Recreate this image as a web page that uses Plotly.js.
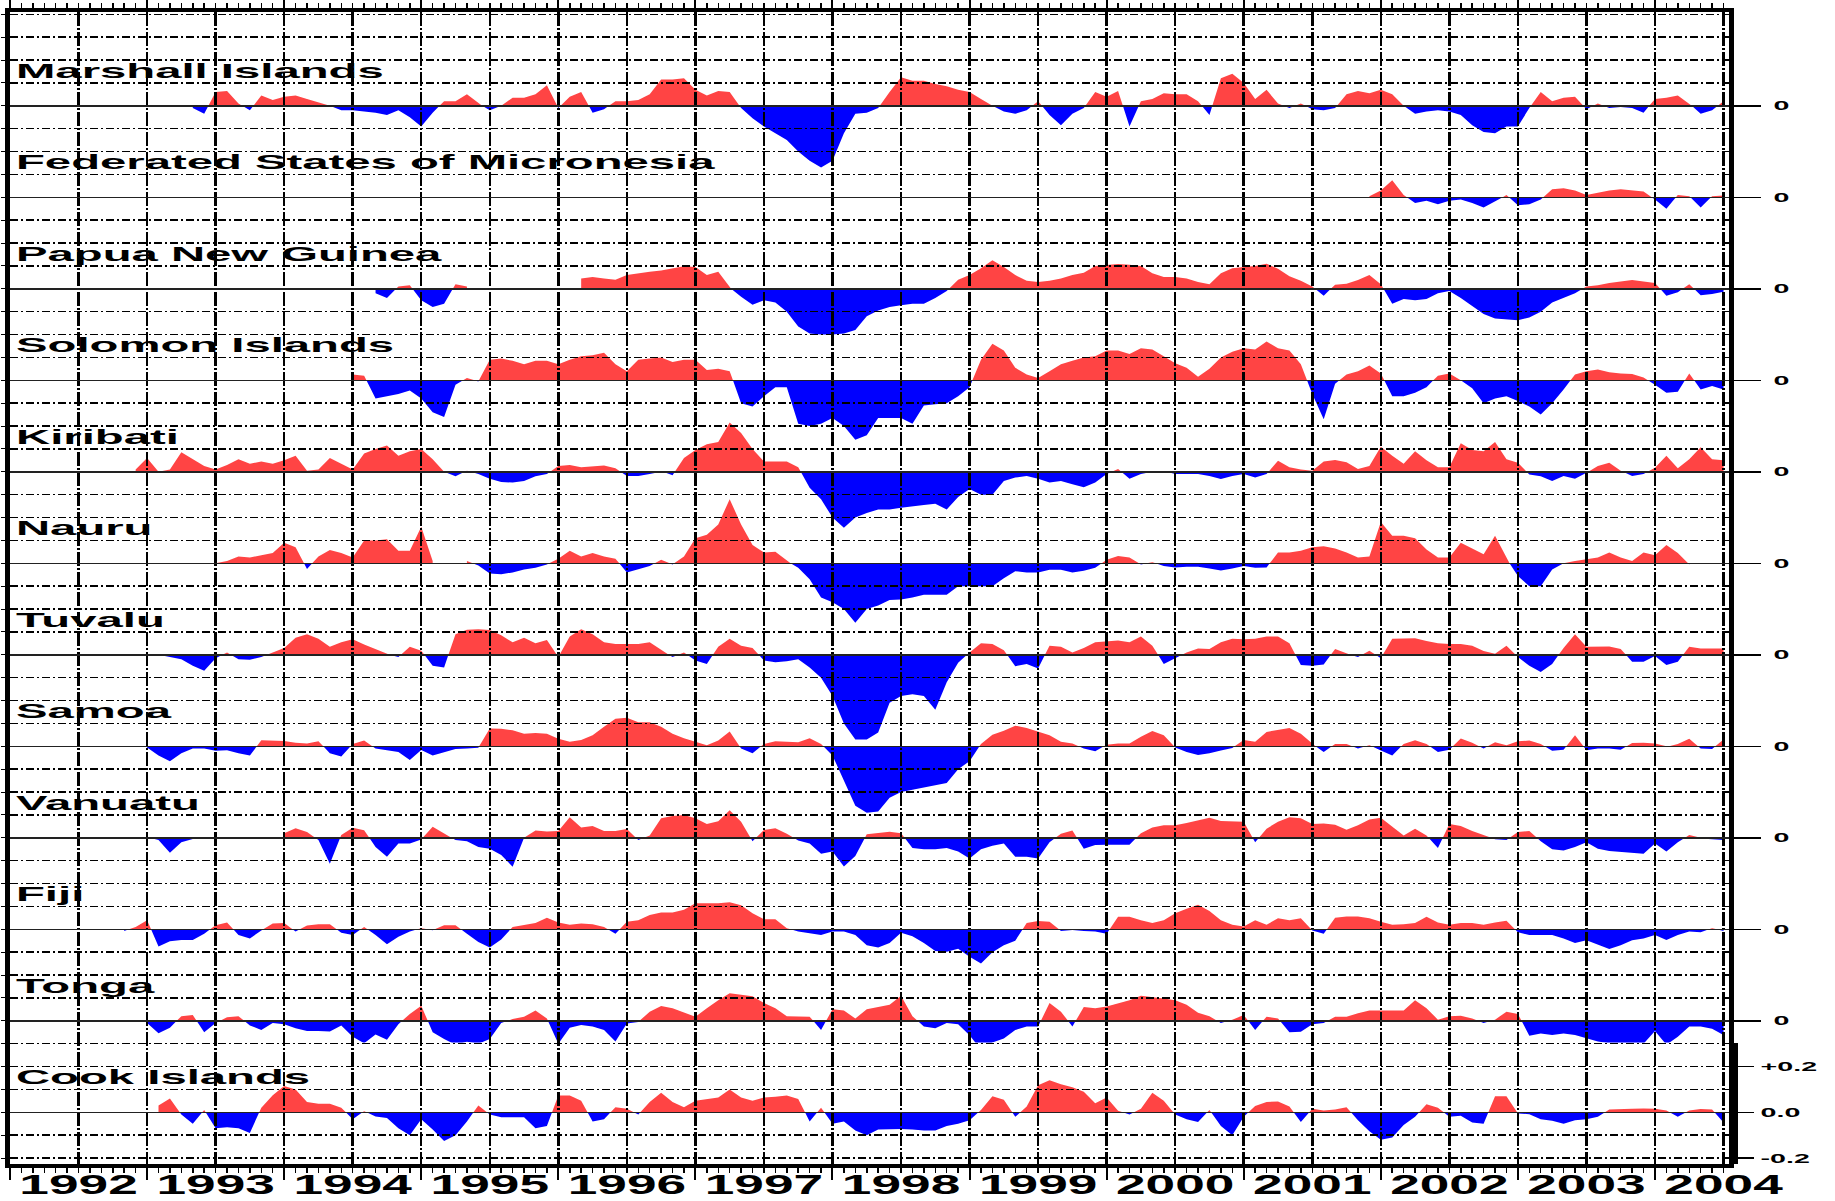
<!DOCTYPE html>
<html><head><meta charset="utf-8">
<script src="https://cdn.plot.ly/plotly-3.0.1.min.js"></script>
<style>html,body{margin:0;padding:0;background:#fff;}#chart{width:1835px;height:1201px;}</style>
</head><body><div id="chart"></div>
<script>
// ---------------- DATA (sea-level anomaly, metres, monthly) ----------------
const islands = ['Marshall Islands','Federated States of Micronesia','Papua New Guinea','Solomon Islands',
  'Kiribati','Nauru','Tuvalu','Samoa','Vanuatu','Fiji','Tonga','Cook Islands'];
const startMonths = ['1993-05','2001-12','1994-09','1994-07','1992-12','1993-07','1993-02','1993-01','1993-01','1992-11','1993-01','1993-02'];
const yearLabels = ['1992','1993','1994','1995','1996','1997','1998','1999','2000','2001','2002','2003','2004'];

const marshall = [-0.01,-0.035,0.06,0.065,0.01,-0.02,0.045,0.025,
 0.04,0.045,0.03,0.015,0.0,-0.02,-0.02,-0.025,-0.03,-0.04,-0.02,-0.05,
 -0.09,-0.03,0.02,0.02,0.05,0.01,-0.02,0.0,0.035,0.035,0.05,0.09,
 -0.01,0.04,0.06,-0.03,-0.015,0.02,0.02,0.025,0.05,0.115,0.115,0.12,
 0.07,0.045,0.065,0.06,-0.01,-0.055,-0.09,-0.12,-0.15,-0.2,-0.24,-0.27,
 -0.24,-0.12,-0.035,-0.03,-0.01,0.06,0.125,0.11,0.11,0.095,0.085,0.07,
 0.06,0.03,0.0,-0.025,-0.035,-0.02,0.02,-0.04,-0.085,-0.035,-0.01,0.06,
 0.04,0.065,-0.09,0.02,0.03,0.055,0.05,0.05,0.02,-0.04,0.12,0.14,
 0.1,0.03,0.07,0.01,-0.01,0.01,-0.015,-0.02,-0.01,0.05,0.065,0.055,
 0.07,0.05,0.0,-0.035,-0.025,-0.02,-0.025,-0.04,-0.085,-0.115,-0.12,-0.09,
 -0.09,-0.01,0.06,0.02,0.035,0.04,-0.015,0.01,-0.01,-0.005,-0.01,-0.03,
 0.03,0.035,0.045,0.01,-0.035,-0.02,0.02];

const micronesia = [0.005,
 0.03,0.075,0.01,-0.025,-0.015,-0.03,-0.015,-0.01,-0.025,-0.045,-0.02,0.01,
 -0.035,-0.03,-0.01,0.035,0.04,0.03,0.01,0.02,0.03,0.035,0.03,0.025,
 -0.01,-0.05,0.01,0.005,-0.045,0.005,0.008];

const papua = [-0.02,-0.04,0.01,0.015,
 -0.05,-0.08,-0.065,0.02,0.01,null,null,null,null,null,null,null,
 null,null,0.045,0.052,0.045,0.04,0.06,0.068,0.075,0.08,0.09,0.098,
 0.095,0.06,0.075,0.005,-0.035,-0.07,-0.05,-0.06,-0.1,-0.165,-0.195,-0.2,
 -0.2,-0.195,-0.18,-0.12,-0.095,-0.08,-0.072,-0.065,-0.065,-0.04,-0.01,0.04,
 0.06,0.09,0.125,0.095,0.06,0.035,0.03,0.035,0.045,0.06,0.07,0.1,
 0.105,0.108,0.105,0.1,0.068,0.052,0.052,0.045,0.03,0.02,0.068,0.09,
 0.095,0.1,0.11,0.088,0.055,0.035,0.01,-0.03,0.018,0.022,0.038,0.06,
 0.02,-0.065,-0.045,-0.05,-0.045,-0.02,-0.01,-0.04,-0.075,-0.11,-0.13,-0.133,
 -0.137,-0.125,-0.1,-0.06,-0.04,-0.02,0.01,0.015,0.025,0.03,0.038,0.032,
 0.025,-0.03,-0.015,0.02,-0.028,-0.023,-0.013];

const solomon = [0.025,0.02,-0.08,-0.07,-0.06,-0.045,
 -0.08,-0.14,-0.16,-0.02,0.01,-0.005,0.09,0.095,0.085,0.07,0.085,0.085,
 0.07,0.09,0.105,0.11,0.12,0.07,0.04,0.09,0.095,0.1,0.08,0.09,
 0.09,0.045,0.05,0.04,-0.1,-0.115,-0.07,-0.03,-0.03,-0.19,-0.2,-0.19,
 -0.165,-0.2,-0.26,-0.24,-0.165,-0.165,-0.165,-0.19,-0.11,-0.105,-0.1,-0.07,
 -0.03,0.09,0.16,0.13,0.055,0.025,0.01,0.04,0.07,0.085,0.1,0.105,
 0.13,0.13,0.115,0.14,0.135,0.105,0.075,0.055,0.015,0.05,0.1,0.125,
 0.14,0.135,0.17,0.14,0.13,0.07,-0.06,-0.17,-0.015,0.025,0.04,0.065,
 0.03,-0.07,-0.07,-0.055,-0.03,0.02,0.03,0.0,-0.035,-0.1,-0.08,-0.07,
 -0.09,-0.115,-0.15,-0.1,-0.04,0.025,0.04,0.047,0.035,0.03,0.028,0.012,
 -0.02,-0.055,-0.05,0.03,-0.04,-0.025,-0.04];

const kiribati = [0.01,
 0.06,0.0,0.01,0.085,0.055,0.025,0.01,0.03,0.055,0.035,0.045,0.035,
 0.05,0.07,0.005,0.01,0.06,0.035,0.01,0.08,0.1,0.115,0.07,0.09,
 0.1,0.055,0.0,-0.02,0.005,-0.01,-0.03,-0.045,-0.047,-0.04,-0.02,-0.01,
 0.025,0.03,0.02,0.025,0.027,0.015,-0.018,-0.018,-0.01,0.003,-0.015,0.06,
 0.095,0.12,0.13,0.215,0.17,0.1,0.045,0.045,0.045,0.02,-0.07,-0.12,
 -0.2,-0.245,-0.2,-0.18,-0.165,-0.165,-0.157,-0.15,-0.145,-0.14,-0.165,-0.11,
 -0.075,-0.1,-0.1,-0.04,-0.025,-0.018,-0.03,-0.047,-0.04,-0.055,-0.068,-0.047,
 -0.01,0.012,-0.03,-0.01,0.0,0.003,-0.01,-0.01,-0.01,-0.018,-0.032,-0.018,
 -0.01,-0.025,-0.01,0.048,0.02,0.01,0.005,0.045,0.052,0.042,0.012,0.025,
 0.11,0.07,0.035,0.09,0.05,0.02,0.02,0.125,0.095,0.09,0.13,0.055,
 0.04,-0.012,-0.02,-0.04,-0.018,-0.03,-0.005,0.025,0.04,0.005,-0.018,-0.01,
 0.018,0.07,0.015,0.055,0.107,0.055,0.05];

const nauru = [0.0,0.01,0.03,0.025,0.035,0.045,
 0.09,0.07,-0.025,0.03,0.058,0.045,0.025,0.1,0.1,0.105,0.055,0.055,
 0.16,0.01,null,null,0.01,-0.01,-0.045,-0.048,-0.04,-0.027,-0.02,-0.005,
 0.02,0.055,0.03,0.045,0.03,0.02,-0.04,-0.027,-0.012,0.015,-0.005,0.03,
 0.11,0.125,0.17,0.28,0.17,0.08,0.047,0.05,0.01,-0.02,-0.07,-0.15,
 -0.17,-0.2,-0.26,-0.2,-0.185,-0.16,-0.158,-0.15,-0.138,-0.137,-0.137,-0.1,
 -0.1,-0.1,-0.1,-0.065,-0.035,-0.04,-0.04,-0.028,-0.028,-0.04,-0.033,-0.02,
 0.015,0.032,0.025,-0.005,0.005,-0.012,-0.018,-0.015,-0.015,-0.023,-0.032,-0.023,
 -0.012,-0.02,-0.018,0.047,0.047,0.055,0.07,0.075,0.065,0.047,0.025,0.03,
 0.18,0.12,0.12,0.11,0.06,0.025,0.025,0.09,0.065,0.04,0.12,0.02,
 -0.055,-0.1,-0.1,-0.027,0.0,0.01,0.018,0.025,0.047,0.025,0.01,0.047,
 0.035,0.08,0.045,-0.005];

const tuvalu = [0.0,-0.01,-0.02,-0.048,-0.07,-0.015,0.01,-0.02,-0.022,-0.01,0.01,
 0.03,0.075,0.09,0.07,0.035,0.055,0.068,0.045,0.025,0.003,-0.01,0.035,
 0.018,-0.048,-0.055,0.09,0.11,0.112,0.108,0.085,0.055,0.075,0.05,0.065,
 -0.01,0.08,0.112,0.09,0.055,0.047,0.047,0.047,0.055,0.02,-0.01,0.01,
 -0.025,-0.04,0.035,0.07,0.04,0.03,-0.025,-0.033,-0.028,-0.02,-0.055,-0.1,
 -0.18,-0.3,-0.37,-0.37,-0.34,-0.21,-0.18,-0.172,-0.18,-0.24,-0.12,-0.035,
 0.01,0.05,0.047,0.02,-0.05,-0.04,-0.06,0.04,0.035,0.01,0.03,0.055,
 0.06,0.062,0.055,0.08,0.04,-0.04,-0.015,0.01,0.028,0.025,0.055,0.07,
 0.068,0.07,0.08,0.08,0.05,-0.045,-0.048,-0.042,0.025,0.005,-0.01,0.018,
 -0.015,0.07,0.072,0.072,0.06,0.05,0.047,0.047,0.04,0.017,0.005,0.04,
 -0.01,-0.048,-0.075,-0.04,0.03,0.09,0.035,0.036,0.036,0.025,-0.03,-0.03,
 -0.005,-0.045,-0.03,0.035,0.028,0.028,0.028];

const samoa = [-0.005,-0.04,-0.065,-0.03,-0.01,-0.01,-0.02,-0.017,-0.03,-0.04,0.026,0.025,
 0.023,0.015,0.012,0.022,-0.03,-0.045,0.01,0.025,-0.01,-0.016,-0.025,-0.06,
 -0.016,-0.04,-0.025,-0.012,-0.01,-0.006,0.078,0.077,0.07,0.055,0.058,0.055,
 0.033,0.02,0.027,0.048,0.085,0.12,0.125,0.105,0.105,0.085,0.055,0.035,
 0.02,0.005,0.025,0.065,-0.01,-0.03,0.01,0.022,0.02,0.018,0.035,0.01,
 -0.04,-0.15,-0.26,-0.29,-0.285,-0.225,-0.2,-0.19,-0.18,-0.17,-0.16,-0.1,
 -0.065,0.01,0.05,0.068,0.09,0.08,0.063,0.048,0.02,0.012,-0.01,-0.022,
 0.007,0.012,0.012,0.042,0.067,0.048,-0.005,-0.025,-0.038,-0.03,-0.018,-0.007,
 0.027,0.02,0.063,0.073,0.08,0.055,0.01,-0.025,0.01,0.01,-0.01,0.005,
 -0.018,-0.04,0.01,0.026,0.01,-0.025,-0.015,0.034,0.015,-0.01,0.018,0.005,
 0.022,0.025,0.01,-0.02,-0.015,0.048,-0.017,-0.01,-0.01,-0.015,0.014,0.015,
 0.012,-0.003,0.01,0.033,-0.01,-0.012,0.03];

const vanuatu = [0.003,-0.01,-0.065,-0.02,-0.005,null,null,null,null,null,null,null,
 0.02,0.042,0.025,-0.01,-0.113,0.012,0.044,0.033,-0.04,-0.083,-0.025,-0.025,
 -0.007,0.048,0.018,-0.01,-0.015,-0.04,-0.048,-0.075,-0.127,0.0,0.032,0.027,
 0.03,0.09,0.045,0.052,0.03,0.03,0.038,-0.01,0.01,0.085,0.095,0.1,
 0.085,0.06,0.072,0.12,0.07,-0.015,0.034,0.042,0.018,-0.012,-0.025,-0.07,
 -0.06,-0.125,-0.08,0.015,0.02,0.026,0.02,-0.045,-0.05,-0.05,-0.045,-0.06,
 -0.09,-0.05,-0.035,-0.025,-0.083,-0.083,-0.09,-0.02,0.018,0.032,-0.048,-0.032,
 -0.03,-0.03,-0.03,0.02,0.045,0.055,0.055,0.065,0.075,0.088,0.073,0.073,
 0.07,-0.02,0.04,0.07,0.09,0.085,0.06,0.063,0.057,0.035,0.055,0.08,
 0.088,0.05,0.01,0.04,0.01,-0.045,0.06,0.052,0.03,0.012,-0.006,-0.01,
 0.025,0.03,-0.015,-0.05,-0.055,-0.04,-0.02,-0.048,-0.058,-0.062,-0.065,-0.07,
 -0.025,-0.06,-0.02,0.012,-0.003,-0.006,-0.01];

const fiji = [-0.007,0.01,
 0.04,-0.075,-0.052,-0.047,-0.047,-0.02,0.018,0.03,-0.025,-0.04,-0.005,0.025,
 0.027,-0.01,0.017,0.022,0.022,-0.015,-0.025,0.01,-0.025,-0.065,-0.033,-0.01,
 0.005,-0.004,0.018,0.018,-0.02,-0.055,-0.08,-0.045,0.01,0.02,0.028,0.05,
 0.03,0.02,0.025,0.022,0.01,-0.02,0.033,0.04,0.063,0.073,0.073,0.085,
 0.114,0.114,0.114,0.118,0.105,0.07,0.044,0.044,0.005,-0.01,-0.017,-0.025,
 -0.01,-0.01,-0.025,-0.07,-0.08,-0.06,-0.015,-0.03,-0.06,-0.095,-0.098,-0.085,
 -0.12,-0.15,-0.1,-0.07,-0.05,0.027,0.036,0.033,-0.007,-0.003,-0.007,-0.01,
 -0.02,0.055,0.055,0.04,0.027,0.04,0.07,0.09,0.107,0.08,0.04,0.02,
 0.012,0.04,0.02,0.048,0.04,0.048,-0.005,-0.02,0.05,0.056,0.056,0.048,
 0.033,0.02,0.022,0.027,0.055,0.03,0.02,0.027,0.027,0.02,0.03,0.037,
 -0.013,-0.025,-0.025,-0.025,-0.04,-0.06,-0.048,-0.067,-0.086,-0.07,-0.048,-0.04,
 -0.025,-0.047,-0.025,-0.01,-0.013,0.005,-0.007];

const tonga = [-0.01,-0.054,-0.03,0.02,0.025,-0.05,-0.01,0.015,0.02,-0.02,-0.04,-0.01,
 -0.015,-0.033,-0.045,-0.045,-0.047,-0.02,-0.07,-0.098,-0.06,-0.083,-0.015,0.03,
 0.066,-0.05,-0.08,-0.105,-0.092,-0.1,-0.08,-0.01,0.008,0.018,0.045,0.01,
 -0.1,-0.03,-0.018,-0.025,-0.04,-0.09,-0.012,-0.005,0.04,0.065,0.055,0.035,
 0.018,0.055,0.09,0.12,0.115,0.107,0.078,0.055,0.02,0.018,0.018,-0.04,
 0.05,0.045,0.01,0.05,0.06,0.07,0.11,0.02,-0.025,-0.033,-0.01,-0.015,
 -0.063,-0.127,-0.095,-0.077,-0.04,-0.025,-0.025,0.078,0.04,-0.025,0.06,0.055,
 0.062,0.075,0.09,0.11,0.105,0.098,0.09,0.07,0.035,0.02,-0.01,0.005,
 0.025,-0.04,0.018,0.01,-0.05,-0.048,-0.015,-0.01,0.018,0.018,0.033,0.045,
 0.045,0.045,0.045,0.09,0.055,0.005,0.02,0.022,0.01,-0.01,0.005,0.04,
 0.03,-0.065,-0.055,-0.062,-0.055,-0.062,-0.077,-0.09,-0.098,-0.105,-0.113,-0.1,
 -0.045,-0.105,-0.07,-0.025,-0.025,-0.035,-0.062];

const cook = [0.03,0.06,-0.01,-0.05,0.01,-0.07,-0.065,-0.07,-0.09,0.02,0.075,
 0.115,0.1,0.045,0.037,0.037,0.02,-0.03,0.005,-0.018,-0.025,-0.07,-0.1,
 -0.03,-0.075,-0.125,-0.1,-0.04,0.03,-0.01,-0.022,-0.022,-0.022,-0.07,-0.06,
 0.073,0.073,0.05,-0.04,-0.03,0.022,0.015,-0.01,0.045,0.085,0.045,0.022,
 0.05,0.057,0.065,0.1,0.065,0.05,0.065,0.068,0.073,0.058,-0.04,0.02,
 -0.05,-0.04,-0.08,-0.1,-0.075,-0.073,-0.073,-0.075,-0.08,-0.08,-0.06,-0.05,
 -0.035,0.01,0.07,0.055,-0.02,0.025,0.118,0.14,0.123,0.11,0.09,0.04,
 0.065,0.007,-0.01,0.015,0.085,0.05,-0.01,-0.03,-0.042,0.01,-0.06,-0.1,
 -0.02,0.028,0.045,0.047,0.025,-0.042,0.015,0.008,0.012,0.022,-0.035,-0.083,
 -0.12,-0.11,-0.055,-0.02,0.035,0.02,-0.02,-0.015,-0.045,-0.05,0.07,0.07,
 -0.005,-0.008,-0.03,-0.037,-0.05,-0.035,-0.03,-0.02,0.012,0.012,0.015,0.017,
 0.015,0.008,-0.02,0.008,0.014,0.012,-0.045];

const seriesList = [marshall, micronesia, papua, solomon, kiribati, nauru, tuvalu, samoa, vanuatu, fiji, tonga, cook];

// ---------------- LAYOUT / DRAWING ----------------
const X0 = 1992, X1 = 2004.54;
const YLO = -0.226, YHI = 4.81, STEP = 0.4;
const RED = '#ff4444', BLUE = '#0000ff';
const FONT = '"Liberation Sans", Arial, Helvetica, sans-serif';

function monthX(start, i){ const p = start.split('-').map(Number); return p[0] + (p[1] - 1 + i) / 12; }
function runsOf(xs, vs){
  const out = []; let cur = null;
  vs.forEach((v,i)=>{ if(v===null){ cur=null; return; } if(!cur){ cur={x:[],v:[]}; out.push(cur); } cur.x.push(xs[i]); cur.v.push(v); });
  return out;
}
function splitRun(xs, vs){
  const px=[],py=[],nx=[],ny=[];
  for(let i=0;i<vs.length;i++){
    const v=vs[i], x=xs[i];
    if(i>0){
      const v0 = vs[i-1];
      if((v0>0 && v<0) || (v0<0 && v>0)){
        const x0 = xs[i-1], xc = x0 + (x-x0)*v0/(v0-v);
        px.push(xc);py.push(0);nx.push(xc);ny.push(0);
      }
    }
    px.push(x);py.push(Math.max(v,0));nx.push(x);ny.push(Math.min(v,0));
  }
  return {px,py,nx,ny};
}

const n = islands.length;
function axisIdFor(p){ const k = n-1-p; return k===0 ? 'y13' : 'y'+(k+1); }

const traces = [
  {x:[], y:[], xaxis:'x', yaxis:'y', mode:'lines', showlegend:false, hoverinfo:'skip'},
  {x:[], y:[], xaxis:'x2', yaxis:'y', mode:'lines', showlegend:false, hoverinfo:'skip'}
];
seriesList.forEach((vals,p)=>{
  const xs = vals.map((_,i)=>monthX(startMonths[p], i));
  const ya = axisIdFor(p);
  runsOf(xs, vals).forEach(run=>{
    const s = splitRun(run.x, run.v);
    traces.push({x:s.px, y:s.py, xaxis:'x', yaxis:ya, mode:'lines', line:{width:0, color:RED}, fill:'tozeroy', fillcolor:RED, showlegend:false, hoverinfo:'skip'});
    traces.push({x:s.nx, y:s.ny, xaxis:'x', yaxis:ya, mode:'lines', line:{width:0, color:BLUE}, fill:'tozeroy', fillcolor:BLUE, showlegend:false, hoverinfo:'skip'});
  });
});

const midYears = yearLabels.map(y => Number(y) + 0.5);
const VDASH = '14px,2px,2px,2px';
const layout = {
  width:1835, height:1201,
  margin:{l:10, r:106, t:12, b:37, pad:0},
  paper_bgcolor:'#ffffff', plot_bgcolor:'#ffffff',
  showlegend:false,
  font:{family:FONT, color:'#000'},
  xaxis:{range:[X0,X1], tick0:1992, dtick:1, ticks:'outside', ticklen:12, tickwidth:2, tickcolor:'#000',
    showticklabels:false, showgrid:true, gridcolor:'#000', gridwidth:2.5, griddash:VDASH,
    zeroline:false, showline:true, linewidth:4, linecolor:'#000', mirror:'ticks', layer:'above traces',
    minor:{tick0:1992, dtick:1/12, ticks:'outside', ticklen:5, tickwidth:1.5, tickcolor:'#000', showgrid:false}},
  xaxis2:{overlaying:'x', range:[X0,X1], side:'bottom', tickmode:'array', tickvals:midYears, ticktext:yearLabels,
    ticks:'', showgrid:true, gridcolor:'#000', gridwidth:2.5, griddash:VDASH,
    zeroline:false, showline:false, ticklabelstandoff:1,
    tickfont:{family:FONT, size:28, color:'#000', weight:'bold'}},
  yaxis:{range:[YLO,YHI], tick0:0, dtick:0.1, showgrid:true, gridcolor:'#000', gridwidth:1.5, griddash:'8px,3px,2px,3px',
    zeroline:false, showticklabels:false, ticks:'outside', ticklen:4, tickwidth:1, tickcolor:'#000',
    showline:true, linewidth:5, linecolor:'#000', mirror:true, layer:'above traces'},
  annotations:[]
};
for(let k=1;k<n;k++){
  layout['yaxis'+(k+1)] = {overlaying:'y', side:'right', range:[YLO-STEP*k, YHI-STEP*k],
    tickmode:'array', tickvals:[0], ticktext:['0'], ticks:'outside', ticklen:31, tickwidth:1.5, tickcolor:'#000',
    showgrid:false, zeroline:true, zerolinecolor:'#222', zerolinewidth:1.5, showline:false,
    ticklabelstandoff:10, tickfont:{family:FONT, size:13, color:'#000', weight:'bold'}};
}
const cookTop = YLO + 0.531;
layout.yaxis13 = {domain:[0, (cookTop-YLO)/(YHI-YLO)], range:[YLO, cookTop], anchor:'free', position:1, shift:4, side:'right',
  tickmode:'array', tickvals:[-0.2,0,0.2], ticktext:['-0.2','0.0','+0.2'], ticks:'outside', ticklen:16, tickwidth:1.5, tickcolor:'#000',
  showgrid:false, zeroline:true, zerolinecolor:'#222', zerolinewidth:1.5, showline:true, linewidth:9, linecolor:'#000',
  ticklabelstandoff:4, tickfont:{family:FONT, size:13, color:'#000', weight:'bold'}};

islands.forEach((name,p)=>{
  layout.annotations.push({xref:'x', yref:axisIdFor(p), x:1992.03, y:0.155, xanchor:'left', yanchor:'middle',
    text:name, showarrow:false, font:{family:FONT, size:21, color:'#000', weight:'bold'}});
});

function stretch(nodes, f, keepLeft){
  nodes.forEach(t=>{
    const w = t.getComputedTextLength(); if(!w) return;
    if(keepLeft){ const bb = t.getBBox(); t.setAttribute('text-anchor','start'); t.setAttribute('x', bb.x); }
    t.setAttribute('textLength', (w*f).toFixed(1));
    t.setAttribute('lengthAdjust','spacingAndGlyphs');
  });
}

const gd = document.getElementById('chart');
Plotly.newPlot(gd, traces, layout, {staticPlot:true, displayModeBar:false}).then(()=>{
  const dup = gd.querySelector('.cartesianlayer .subplot.xy13 > .gridlayer');
  if(dup) dup.remove();
  const cl = gd.querySelector('.cartesianlayer');
  gd.querySelectorAll('.cartesianlayer .gridlayer, .cartesianlayer .zerolinelayer').forEach(g=>cl.appendChild(g));
  const allText = Array.from(gd.querySelectorAll('.cartesianlayer text'));
  const cls = t => (t.parentNode && t.parentNode.getAttribute && t.parentNode.getAttribute('class')) || '';
  stretch(allText.filter(t => /(^|\s)x2tick(\s|$)/.test(cls(t))), 1.9, false);
  stretch(allText.filter(t => /(^|\s)y\d+tick(\s|$)/.test(cls(t))), 2.2, false);
  stretch(gd.querySelectorAll('.annotation-text'), 2.25, true);
});
</script>
</body></html>
